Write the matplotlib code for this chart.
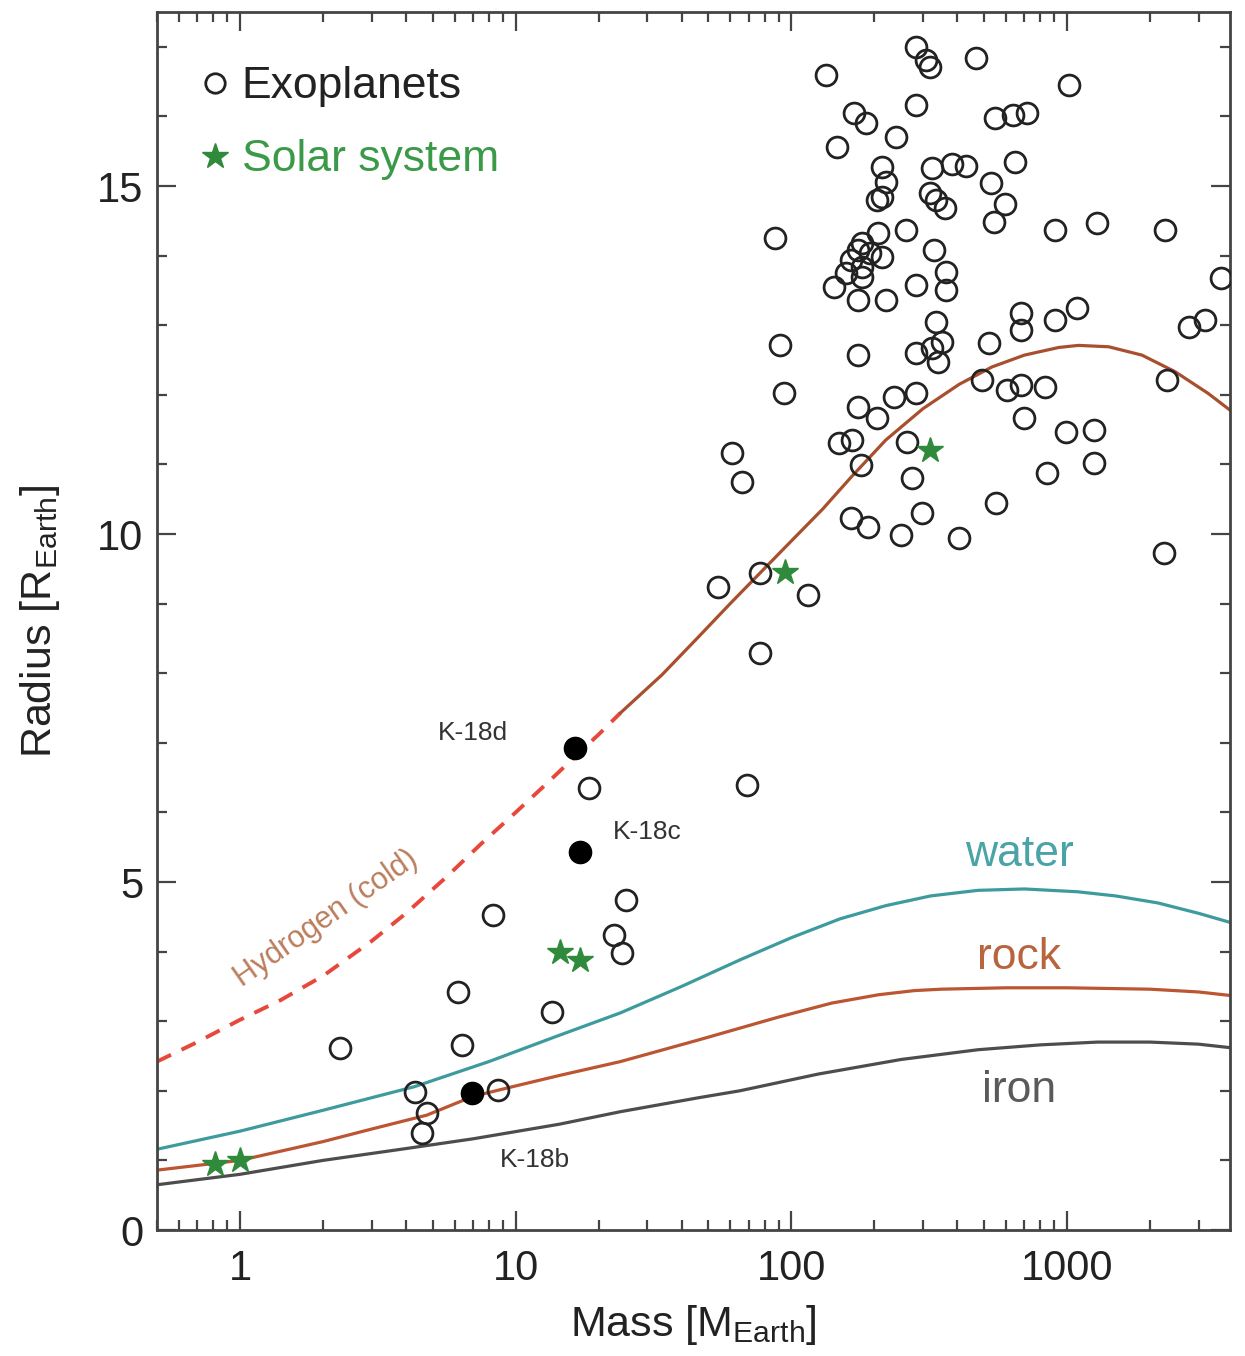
import matplotlib
matplotlib.use("Agg")
import matplotlib.pyplot as plt
from matplotlib.lines import Line2D
from matplotlib.ticker import LogLocator, FixedLocator, FixedFormatter, MultipleLocator, NullFormatter

plt.rcParams['font.family'] = ['Liberation Sans', 'DejaVu Sans']
plt.rcParams['mathtext.fontset'] = 'custom'
plt.rcParams['mathtext.rm'] = 'Liberation Sans'
plt.rcParams['mathtext.it'] = 'Liberation Sans'

# ---------------- data ----------------
exo_mass = [284, 308, 319, 468, 134, 1017, 284, 169, 187, 240, 146, 548, 638, 716,
            214, 221, 214, 205, 324, 383, 431, 319, 335, 361, 530, 648, 596, 544,
            87, 261, 207, 181, 175, 193, 214, 164, 181, 158, 143, 181, 175, 221,
            284, 330, 364, 364, 335, 905, 1285, 2265, 3614, 91, 175, 284, 324, 341,
            352, 522, 681, 681, 905, 1087, 2767, 3162, 94, 175, 236, 284, 492, 606,
            681, 832, 2303, 205, 166, 149, 179, 263, 274, 553, 165, 189, 250, 298,
            406, 699, 992, 1253, 1253, 846, 2246, 61, 66, 54, 77, 115, 77, 69,
            18.5, 25.2, 22.8, 24.4, 8.25, 13.6, 6.16, 6.37, 2.30, 4.31, 4.76, 4.56, 8.61]
exo_radius = [17.0, 16.81, 16.71, 16.84, 16.59, 16.45, 16.16, 16.05, 15.91, 15.70, 15.56, 15.98, 16.02, 16.05,
              15.27, 15.06, 14.84, 14.80, 15.26, 15.32, 15.29, 14.90, 14.80, 14.68, 15.04, 15.34, 14.74, 14.48,
              14.25, 14.37, 14.32, 14.18, 14.08, 14.04, 13.98, 13.94, 13.84, 13.75, 13.55, 13.69, 13.36, 13.36,
              13.58, 14.08, 13.76, 13.51, 13.05, 14.37, 14.47, 14.37, 13.68, 12.72, 12.57, 12.60, 12.67, 12.47,
              12.76, 12.74, 13.18, 12.93, 13.07, 13.25, 12.97, 13.07, 12.03, 11.82, 11.97, 12.03, 12.21, 12.07,
              12.14, 12.11, 12.21, 11.67, 11.35, 11.31, 10.99, 11.32, 10.80, 10.45, 10.23, 10.10, 9.99, 10.30,
              9.94, 11.67, 11.47, 11.49, 11.02, 10.88, 9.73, 11.16, 10.75, 9.24, 9.44, 9.12, 8.29, 6.39,
              6.35, 4.74, 4.24, 3.98, 4.53, 3.13, 3.42, 2.66, 2.61, 1.98, 1.68, 1.39, 2.01]

kepler_names = ["K-18b", "K-18c", "K-18d"]
kepler_mass = [6.93, 17.1, 16.4]
kepler_radius = [1.97, 5.43, 6.93]

solar_names = ["Venus", "Earth", "Uranus", "Neptune", "Saturn", "Jupiter"]
solar_mass = [0.815, 1.0, 14.5, 17.1, 95.2, 317.8]
solar_radius = [0.95, 1.0, 4.0, 3.88, 9.45, 11.2]

h2_cold_mass = [0.5, 0.7, 1.0, 1.4, 2.0, 3.0, 4.0, 5.6, 7.5, 10, 13, 16.4, 20, 24]
h2_cold_radius = [2.42, 2.70, 3.02, 3.30, 3.65, 4.15, 4.55, 5.07, 5.55, 6.00, 6.42, 6.80, 7.12, 7.43]
h2_mass = [24, 34, 46, 60, 77, 100, 130, 165, 220, 300, 406, 534, 700, 933, 1100, 1416, 1870, 2470, 3250, 3900]
h2_radius = [7.43, 7.98, 8.52, 9.00, 9.44, 9.90, 10.36, 10.82, 11.35, 11.80, 12.15, 12.40, 12.57, 12.68,
             12.71, 12.69, 12.57, 12.33, 12.02, 11.78]

water_mass = [0.5, 1.0, 2.0, 4.3, 8.0, 14, 24, 40, 65, 100, 150, 220, 320, 475, 700, 1090, 1500, 2130, 3000, 3900]
water_radius = [1.16, 1.42, 1.72, 2.06, 2.42, 2.78, 3.12, 3.50, 3.88, 4.20, 4.47, 4.66, 4.80, 4.88, 4.90,
                4.86, 4.80, 4.70, 4.55, 4.42]

rock_mass = [0.5, 0.82, 1.0, 2.0, 3.0, 4.76, 7.0, 10, 14.4, 24, 46, 90, 140, 207, 280, 350, 600, 1000, 2000, 3000, 3900]
rock_radius = [0.86, 0.96, 1.0, 1.27, 1.45, 1.65, 1.92, 2.07, 2.22, 2.42, 2.73, 3.06, 3.26, 3.38, 3.44, 3.46, 3.48,
               3.48, 3.46, 3.42, 3.37]

iron_mass = [0.5, 1.0, 2.0, 4.0, 7.0, 14.4, 24, 46, 65, 125, 250, 475, 800, 1290, 2000, 3000, 3900]
iron_radius = [0.65, 0.80, 1.00, 1.17, 1.31, 1.52, 1.70, 1.90, 2.00, 2.24, 2.45, 2.59, 2.66, 2.70, 2.70, 2.67, 2.62]

x_ticks = [1, 10, 100, 1000]
x_tick_labels = ["1", "10", "100", "1000"]
y_ticks = [0, 5, 10, 15]

# ---------------- figure ----------------
fig = plt.figure(figsize=(12.45, 13.56), dpi=100)
ax = fig.add_axes([157/1245, 1 - 1230/1356, (1230-157)/1245, (1230-12)/1356])

col_water = "#3d9b9e"
col_rock = "#bb5532"
col_iron = "#4d4d4d"
col_h2_dash = "#e8483c"
col_h2 = "#a8502e"
col_green = "#2f8a3c"

ax.plot(iron_mass, iron_radius, color=col_iron, lw=2.3, zorder=2)
ax.plot(rock_mass, rock_radius, color=col_rock, lw=2.3, zorder=2)
ax.plot(water_mass, water_radius, color=col_water, lw=2.3, zorder=2)
ax.plot(h2_cold_mass, h2_cold_radius, color=col_h2_dash, lw=2.8, ls=(0, (4, 3)), zorder=2)
ax.plot(h2_mass, h2_radius, color=col_h2, lw=2.3, zorder=2)

ax.plot(exo_mass, exo_radius, ls='none', marker='o', ms=15, mfc='none', mec='#222222', mew=2.0, zorder=3)
ax.plot(kepler_mass, kepler_radius, ls='none', marker='o', ms=16, mfc='black', mec='black', zorder=4)
ax.plot(solar_mass, solar_radius, ls='none', marker='*', ms=19, mfc=col_green, mec=col_green, zorder=5)

ax.set_xscale('log')
ax.set_xlim(0.5, 3900)
ax.set_ylim(0, 17.5)

ax.xaxis.set_major_locator(FixedLocator(x_ticks))
ax.xaxis.set_major_formatter(FixedFormatter(x_tick_labels))
ax.xaxis.set_minor_locator(LogLocator(base=10, subs=[2, 3, 4, 5, 6, 7, 8, 9], numticks=20))
ax.xaxis.set_minor_formatter(NullFormatter())
ax.set_yticks(y_ticks)
ax.yaxis.set_minor_locator(MultipleLocator(1))

ax.tick_params(which='both', direction='in', top=True, right=True, colors='#444444',
               labelcolor='#222222', labelsize=30, width=1.6)
ax.tick_params(which='major', length=14)
ax.tick_params(which='minor', length=7)
ax.tick_params(axis='x', which='major', pad=14)
ax.tick_params(axis='y', which='major', pad=10)
for s in ax.spines.values():
    s.set_linewidth(2.0)
    s.set_color('#444444')

ax.set_xlabel(r"Mass [M$_{\mathrm{Earth}}$]", fontsize=31, color='#222222', va='center')
ax.xaxis.set_label_coords(0.5, -0.078)
ax.set_ylabel(r"Radius [R$_{\mathrm{Earth}}$]", fontsize=31, color='#222222', va='center')
ax.yaxis.set_label_coords(-0.109, 0.5)

# curve labels
ax.text(670, 5.39, "water", color="#4aa3a6", fontsize=32, ha='center', va='center')
ax.text(670, 3.91, "rock", color="#b8653e", fontsize=32, ha='center', va='center')
ax.text(670, 2.01, "iron", color="#5a5a5a", fontsize=32, ha='center', va='center')
ax.text(2.05, 4.48, "Hydrogen (cold)", color="#b97d5c", fontsize=22, ha='center', va='center', rotation=35)

label_pos = {"K-18b": (11.7, 1.0), "K-18c": (30.1, 5.72), "K-18d": (6.99, 7.14)}
for name in kepler_names:
    lx, ly = label_pos[name]
    ax.text(lx, ly, name, color='#333333', fontsize=19, ha='center', va='center')

handles = [Line2D([], [], ls='none', marker='o', ms=14, mfc='none', mec='#222222', mew=2.0),
           Line2D([], [], ls='none', marker='*', ms=19, mfc=col_green, mec=col_green)]
leg = ax.legend(handles, ["Exoplanets", "Solar system"], loc='upper left', frameon=False,
                fontsize=32, handlelength=0.6, handletextpad=0.3, labelspacing=0.72,
                borderaxespad=0.0, bbox_to_anchor=(0.025, 0.970))
leg.get_texts()[0].set_color('#222222')
leg.get_texts()[1].set_color('#3a9a48')

fig.savefig("out.png", dpi=100)
